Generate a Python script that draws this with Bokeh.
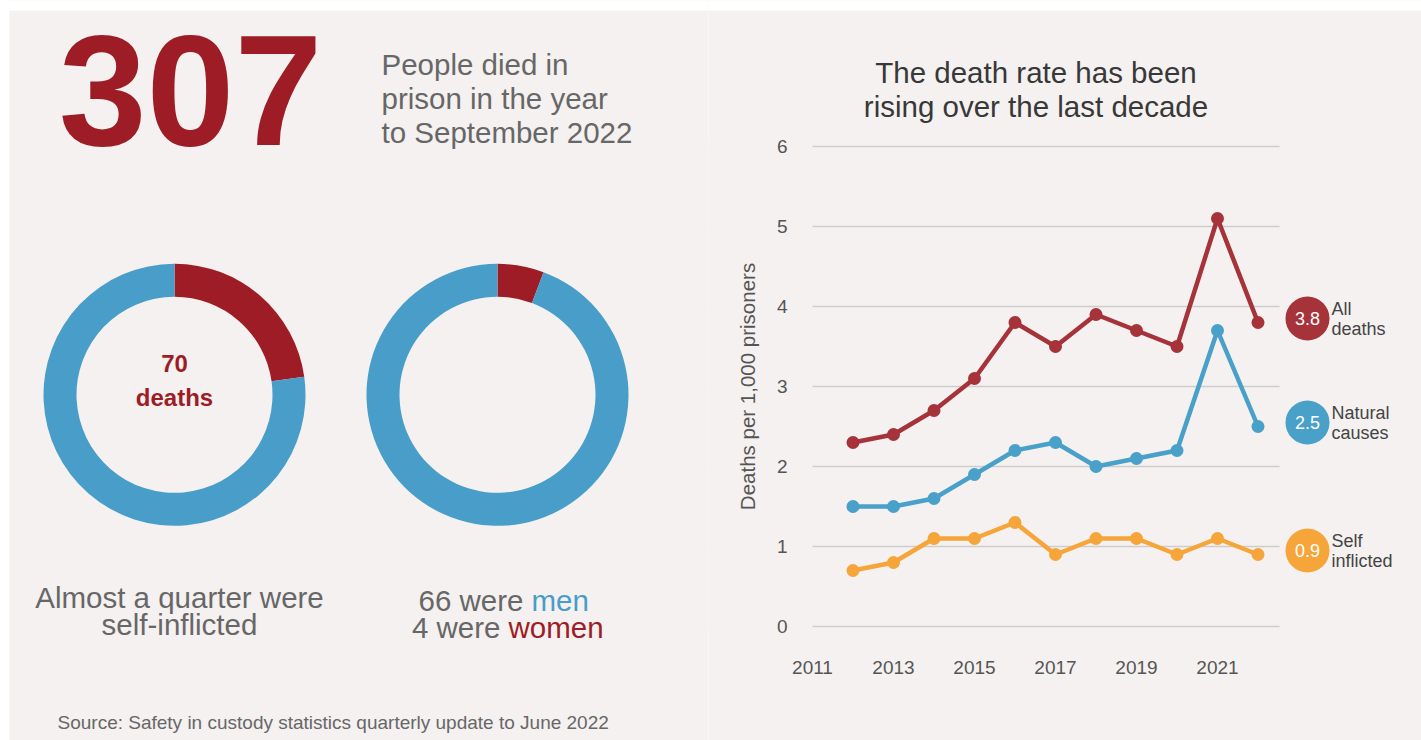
import math
from bokeh.plotting import figure
from bokeh.layouts import row
from bokeh.models import Range1d, FixedTicker, BoxAnnotation, Spacer
from bokeh.core.properties import value
from bokeh.embed import file_html
from bokeh.resources import INLINE

# ---------------- data ----------------
headline_total = 307
headline_lines = ["People died in", "prison in the year", "to September 2022"]

cause_labels = ["Self-inflicted", "Other causes"]
cause_deaths = [70, 237]

sex_labels = ["Women", "Men"]
sex_deaths = [4, 66]

years = [2012, 2013, 2014, 2015, 2016, 2017, 2018, 2019, 2020, 2021, 2022]
all_deaths = [2.3, 2.4, 2.7, 3.1, 3.8, 3.5, 3.9, 3.7, 3.5, 5.1, 3.8]
natural_causes = [1.5, 1.5, 1.6, 1.9, 2.2, 2.3, 2.0, 2.1, 2.2, 3.7, 2.5]
self_inflicted = [0.7, 0.8, 1.1, 1.1, 1.3, 0.9, 1.1, 1.1, 0.9, 1.1, 0.9]

series_line1 = ["All", "Natural", "Self"]
series_line2 = ["deaths", "causes", "inflicted"]

y_ticks = [0, 1, 2, 3, 4, 5, 6]
x_ticks = [2011, 2013, 2015, 2017, 2019, 2021]

chart_title = ["The death rate has been", "rising over the last decade"]
source_text = "Source: Safety in custody statistics quarterly update to June 2022"

# ---------------- style ----------------
BG = "#f4f1f0"
RED = "#9e1c25"
BLUE = "#489dc9"
RED_L = "#a6323a"
BLUE_L = "#49a0c8"
ORANGE = "#f6a53a"
GREY = "#676767"
DARK = "#383838"
FONT = value("Liberation Sans")
BIG = "29.5px"

TOP, LEFT_PAD = 10, 9          # white strip above / left of the panel
H = 740
W_L = 708 - LEFT_PAD
W_R = 1421 - 708

# ---------------- left panel (data coords: x = page x, y = -page y) ----------------
left = figure(width=W_L, height=H, x_range=Range1d(LEFT_PAD, 708), y_range=Range1d(-740, 0),
              x_axis_type=None, y_axis_type=None, output_backend="svg",
              toolbar_location=None, min_border=0)
left.grid.visible = False
left.outline_line_color = None
left.background_fill_color = BG
left.border_fill_color = BG
left.add_layout(BoxAnnotation(left=0, right=720, bottom=-TOP, top=1, fill_color="white",
                              fill_alpha=1.0, line_color=None, level="underlay"))

left.text(x=[190], y=[-90], text=[str(headline_total)], text_font=FONT,
          text_font_size="158px", text_font_style="bold", text_color=RED,
          text_align="center", text_baseline="middle")

left.text(x=[381] * 3, y=[-63.5, -97.5, -131.5], text=headline_lines,
          text_font=FONT, text_font_size=BIG, text_color=GREY,
          text_align="left", text_baseline="middle")


def donut(fig, cx, cy, values, colors):
    total = float(sum(values))
    a = math.pi / 2
    starts, ends = [], []
    for v in values:
        b = a - 2 * math.pi * v / total
        starts.append(b)
        ends.append(a)
        a = b
    fig.annular_wedge(x=[cx] * len(values), y=[cy] * len(values),
                      inner_radius=98, outer_radius=131,
                      start_angle=starts, end_angle=ends, direction="anticlock",
                      fill_color=colors, line_color=None)


donut(left, 174, -394.3, cause_deaths, [RED, BLUE])
donut(left, 497, -394.3, sex_deaths, [RED, BLUE])

left.text(x=[174] * 2, y=[-363, -396.5],
          text=[str(cause_deaths[0]), "deaths"], text_font=FONT,
          text_font_size="24px", text_font_style="bold", text_color=RED,
          text_align="center", text_baseline="middle")

left.text(x=[179] * 2, y=[-597, -624],
          text=["Almost a quarter were", "self-inflicted"], text_font=FONT,
          text_font_size=BIG, text_color=GREY,
          text_align="center", text_baseline="middle")

left.text(x=[523, 500], y=[-600, -627],
          text=[f"{sex_deaths[1]} were", f"{sex_deaths[0]} were"], text_font=FONT,
          text_font_size=BIG, text_color=GREY,
          text_align="right", text_baseline="middle")
left.text(x=[531], y=[-600], text=["men"], text_font=FONT,
          text_font_size=BIG, text_color=BLUE,
          text_align="left", text_baseline="middle")
left.text(x=[508], y=[-627], text=["women"], text_font=FONT,
          text_font_size=BIG, text_color=RED,
          text_align="left", text_baseline="middle")

left.text(x=[57], y=[-722], text=[source_text], text_font=FONT,
          text_font_size="19px", text_color=GREY,
          text_align="left", text_baseline="middle")

# ---------------- right panel: line chart ----------------
PX_PER_YEAR = 40.5
PX_PER_UNIT = 80.0
X0_PAGE = 812      # page x of 2011
Y0_PAGE = 626      # page y of value 0
x_start = 2011 - (X0_PAGE - 708) / PX_PER_YEAR
x_end = 2011 + (1421 - X0_PAGE) / PX_PER_YEAR
y_start = -(740 - Y0_PAGE) / PX_PER_UNIT
y_end = Y0_PAGE / PX_PER_UNIT

right = figure(width=W_R, height=H, x_range=Range1d(x_start, x_end),
               y_range=Range1d(y_start, y_end), output_backend="svg",
               toolbar_location=None, min_border=0)
right.outline_line_color = None
right.background_fill_color = BG
right.border_fill_color = BG
right.add_layout(BoxAnnotation(left=x_start - 1, right=x_end + 1,
                               bottom=(Y0_PAGE - TOP) / PX_PER_UNIT, top=y_end + 1,
                               fill_color="white", fill_alpha=1.0, line_color=None,
                               level="underlay"))

right.xgrid.visible = False
right.ygrid.ticker = FixedTicker(ticks=y_ticks)
right.ygrid.grid_line_color = "#cdcdcd"
right.ygrid.grid_line_width = 1.6

# keep gridlines only over the plotting span
grid_end = 2011 + (1279 - X0_PAGE) / PX_PER_YEAR
right.add_layout(BoxAnnotation(left=grid_end, right=x_end + 1, bottom=-0.1, top=6.1,
                               fill_color=BG, fill_alpha=1.0, line_color=None, level="underlay"))
right.add_layout(BoxAnnotation(left=x_start - 1, right=2011, bottom=-0.1, top=6.1,
                               fill_color=BG, fill_alpha=1.0, line_color=None, level="underlay"))

ya = right.yaxis[0]
ya.fixed_location = 2011
ya.ticker = FixedTicker(ticks=y_ticks)
ya.bounds = (0, 6)
ya.axis_line_color = None
ya.major_tick_line_color = None
ya.minor_tick_line_color = None
ya.major_tick_out = 0
ya.major_tick_in = 0
ya.major_label_standoff = 25
ya.major_label_text_font = "Liberation Sans"
ya.major_label_text_font_size = "19px"
ya.major_label_text_color = "#555555"
ya.axis_label = "Deaths per 1,000 prisoners"
ya.axis_label_text_font = "Liberation Sans"
ya.axis_label_text_font_size = "20.5px"
ya.axis_label_text_font_style = "normal"
ya.axis_label_text_color = "#555555"
ya.axis_label_standoff = 15

xa = right.xaxis[0]
xa.fixed_location = 0
xa.ticker = FixedTicker(ticks=x_ticks)
xa.axis_line_color = None
xa.major_tick_line_color = None
xa.minor_tick_line_color = None
xa.major_tick_out = 0
xa.major_tick_in = 0
xa.major_label_standoff = 34
xa.major_label_text_font = "Liberation Sans"
xa.major_label_text_font_size = "19px"
xa.major_label_text_color = "#555555"

series = [all_deaths, natural_causes, self_inflicted]
colors = [RED_L, BLUE_L, ORANGE]
for vals, c in zip(series, colors):
    right.line(years, vals, line_color=c, line_width=4.5)
    right.scatter(years, vals, size=13, fill_color=c, line_color=None)

END_X = 2011 + (1307 - X0_PAGE) / PX_PER_YEAR
nudge = 0.05
end_vals = [s[-1] for s in series]
end_y = [v + nudge for v in end_vals]
right.scatter(x=[END_X] * 3, y=end_y, size=44, fill_color=colors, line_color=None)
right.text(x=[END_X] * 3, y=end_y, text=[f"{v:.1f}" for v in end_vals], text_font=FONT,
           text_font_size="18px", text_color="white", text_align="center",
           text_baseline="middle")
right.text(x=[END_X] * 3, y=end_y, text=series_line1, x_offset=24, y_offset=-10,
           text_font=FONT, text_font_size="18px", text_color="#444444",
           text_align="left", text_baseline="middle")
right.text(x=[END_X] * 3, y=end_y, text=series_line2, x_offset=24, y_offset=10,
           text_font=FONT, text_font_size="18px", text_color="#444444",
           text_align="left", text_baseline="middle")

# chart title
TITLE_X = 2011 + (1035.5 - X0_PAGE) / PX_PER_YEAR
right.text(x=[TITLE_X] * 2, y=[(Y0_PAGE - 71.5) / PX_PER_UNIT, (Y0_PAGE - 105.5) / PX_PER_UNIT],
           text=chart_title, text_font=FONT, text_font_size=BIG, text_color=DARK,
           text_align="center", text_baseline="middle")

layout = row(Spacer(width=LEFT_PAD, height=H), left, right)
open("out.html", "w").write(file_html(layout, INLINE))
